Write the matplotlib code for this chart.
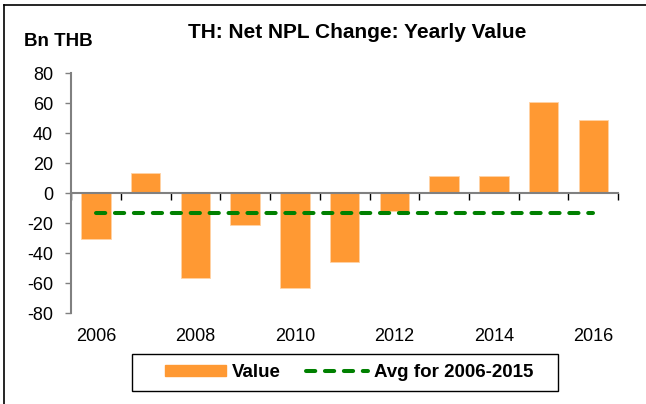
import numpy as np
import matplotlib
matplotlib.use("Agg")
from matplotlib import pyplot as plt
from matplotlib.patches import Rectangle
from matplotlib.lines import Line2D
import matplotlib.transforms as mtransforms

# data
years = [2006, 2007, 2008, 2009, 2010, 2011, 2012, 2013, 2014, 2015, 2016]
values = [-30.7, 13.5, -56.4, -21.0, -63.6, -46.2, -11.8, 11.6, 11.6, 60.9, 48.4]
avg_value = -13.3
y_ticks = [80, 60, 40, 20, 0, -20, -40, -60, -80]

plt.rcParams['font.family'] = ['Liberation Sans', 'DejaVu Sans']

ORANGE = '#FF9933'
GREEN = '#008000'

fig = plt.figure(figsize=(6.46, 4.04), dpi=100)
ax = fig.add_axes([0.110, 0.2252, 0.847, 0.5941])

x = np.arange(len(years))
ax.bar(x, values, width=0.59, color=ORANGE, edgecolor='#FFD3A6', linewidth=0.6, zorder=2)
ax.plot(x, [avg_value] * len(x), color=GREEN, linewidth=2.9,
        dashes=(2.3, 2.4), dash_capstyle='round', zorder=3)

ax.set_xlim(-0.5, len(years) - 0.5)
ax.set_ylim(-80, 80)
ax.set_yticks(y_ticks)
ax.set_yticklabels([str(v) for v in y_ticks], fontsize=13)

for s in ['top', 'right']:
    ax.spines[s].set_visible(False)
ax.spines['left'].set_color('#808080')
ax.spines['left'].set_linewidth(1.5)
ax.spines['bottom'].set_position(('data', 0))
ax.spines['bottom'].set_color('#808080')
ax.spines['bottom'].set_linewidth(1.5)

ax.set_xticks(np.arange(len(years) + 1) - 0.5)
ax.set_xticklabels([])
ax.tick_params(axis='x', direction='out', length=5, width=1, color='#000000')
ax.tick_params(axis='y', direction='out', length=4, width=1, color='#808080', pad=9)

# year labels along the bottom of the plot
trans = mtransforms.blended_transform_factory(ax.transData, ax.transAxes)
for i, yr in enumerate(years):
    if i % 2 == 0:
        ax.text(i, -0.096, str(yr), transform=trans, ha='center', va='center', fontsize=13)

fig.text(0.553, 0.92, 'TH: Net NPL Change: Yearly Value', ha='center', va='center',
         fontsize=15, fontweight='bold')
fig.text(0.037, 0.898, 'Bn THB', ha='left', va='center', fontsize=13.5, fontweight='bold')

# legend, with its box drawn separately
handles = [Rectangle((0, 0), 1, 1, color=ORANGE),
           Line2D([0], [0], color=GREEN, linewidth=2.9, dashes=(2.3, 2.4),
                  dash_capstyle='round')]
fig.legend(handles, ['Value', 'Avg for 2006-2015'], loc='center',
           bbox_to_anchor=(0.540, 0.078), ncol=2, frameon=False,
           prop={'weight': 'bold', 'size': 13.5}, handlelength=3.3, handleheight=0.48,
           columnspacing=1.35, handletextpad=0.3)
fig.patches.append(Rectangle((132 / 646, 1 - 391 / 404), 426 / 646, 37 / 404,
                             transform=fig.transFigure, fill=False,
                             edgecolor='black', linewidth=1.0))

# outer border (top and left only are visible)
fig.add_artist(Line2D([4 / 646, 4 / 646], [0, 1 - 5 / 404], transform=fig.transFigure,
                      color='black', linewidth=1.2))
fig.add_artist(Line2D([4 / 646, 1], [1 - 5 / 404, 1 - 5 / 404], transform=fig.transFigure,
                      color='black', linewidth=1.2))

fig.savefig('out.png', dpi=100)
